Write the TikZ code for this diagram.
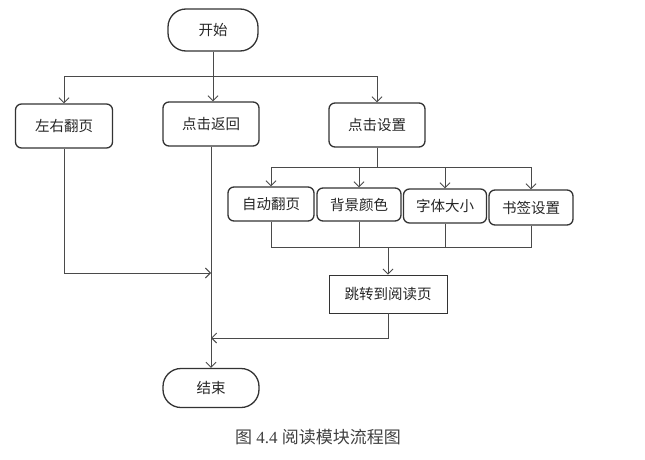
\documentclass[tikz,border=0pt]{standalone}
\usepackage{fontspec}
\setmainfont{Liberation Serif}
\newfontfamily\cjk{Noto Sans CJK SC}
\usetikzlibrary{arrows.meta}
\definecolor{boxline}{HTML}{333333}
\definecolor{conn}{HTML}{4A4A4A}
\tikzset{
  rbox/.style={draw=boxline, line width=1.3pt, rounded corners=6pt, inner sep=0pt,
    font=\cjk\fontsize{14.5}{15}\selectfont, text=black!85},
  sbox/.style={draw=boxline, line width=0.9pt, inner sep=0pt,
    font=\cjk\fontsize{14.5}{15}\selectfont, text=black!85},
  term/.style={draw=boxline, line width=1.3pt, rounded corners=18pt, inner sep=0pt,
    font=\cjk\fontsize{14.5}{15}\selectfont, text=black!85},
  con/.style={draw=conn, line width=0.9pt},
  arr/.style={con, -{Straight Barb[length=5pt,width=10pt,line width=0.9pt]}},
}
\begin{document}
\begin{tikzpicture}[x=1pt,y=-1pt]
\useasboundingbox (0,0) rectangle (645,460);
% nodes
\node[term, minimum width=90pt, minimum height=42pt] (start) at (213,30) {开始};
\node[rbox, minimum width=97pt, minimum height=44pt] (lr) at (64,126) {左右翻页};
\node[rbox, minimum width=96pt, minimum height=44pt] (back) at (211,124) {点击返回};
\node[rbox, minimum width=96pt, minimum height=44pt] (set) at (377,125) {点击设置};
\node[rbox, minimum width=86pt, minimum height=34pt] (auto) at (271,204) {自动翻页};
\node[rbox, minimum width=84pt, minimum height=33pt] (bg) at (359,204.5) {背景颜色};
\node[rbox, minimum width=83pt, minimum height=34pt] (fnt) at (445,206) {字体大小};
\node[rbox, minimum width=84pt, minimum height=35pt] (mark) at (531,207.5) {书签设置};
\node[sbox, minimum width=118pt, minimum height=38pt] (jump) at (388,294) {跳转到阅读页};
\node[term, minimum width=96pt, minimum height=39pt] (end) at (211,388) {结束};
\node[font=\fontsize{17}{18}\selectfont, text=black!75] (cap) at (318,437)
  {{\cjk 图} 4.4 {\cjk 阅读模块流程图}};
% helper coordinates
\coordinate (b1) at (213,76);
\coordinate (b2) at (377,167);
\coordinate (b3) at (388,247);
\coordinate (b4) at (64,273);
\coordinate (b5) at (388,338);
% top branch
\draw[arr] (start.south) -- (start.south |- back.north);
\draw[arr] (b1) -| (lr.north);
\draw[arr] (b1) -| (set.north);
% settings branch
\draw[con] (set.south) -- (b2);
\draw[arr] (b2) -| (auto.north);
\draw[arr] (b2) -| (bg.north);
\draw[arr] (b2) -| (fnt.north);
\draw[arr] (b2) -| (mark.north);
% merge
\draw[con] (auto.south) |- (b3);
\draw[con] (mark.south) |- (b3);
\draw[con] (bg.south) -- (bg.south |- b3);
\draw[con] (fnt.south) -- (fnt.south |- b3);
\draw[arr] (b3) -- (jump.north);
% main line
\draw[arr] (back.south) -- (end.north);
\draw[arr] (lr.south) |- (b4 -| end.north);
\draw[arr] (jump.south) |- (b5 -| end.north);
\end{tikzpicture}
\end{document}
